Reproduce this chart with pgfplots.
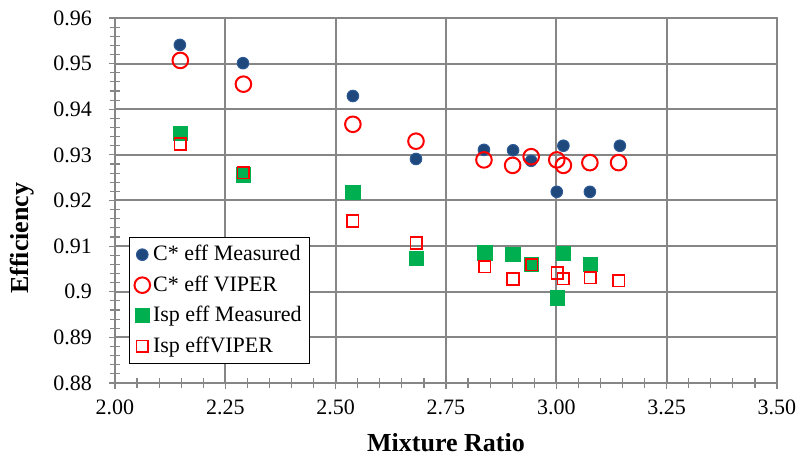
\documentclass[border=0pt]{standalone}
\usepackage{pgfplots}
\pgfplotsset{compat=1.18}
\usepackage{fontspec}
\setmainfont{Liberation Serif}
\definecolor{cblue}{RGB}{31,73,125}
\definecolor{cblueedge}{RGB}{46,90,150}
\definecolor{cgreen}{RGB}{0,176,80}
\definecolor{cgrid}{RGB}{134,134,134}
\begin{document}
\begin{tikzpicture}
\useasboundingbox (-57.5pt,-37.5pt) rectangle (342.5pt,191.5pt);
\begin{axis}[
  scale only axis,
  width=331pt, height=182.5pt,
  xmin=2, xmax=3.5, ymin=0.88, ymax=0.96,
  xtick={2,2.25,...,3.5},
  ytick={0.88,0.89,...,0.96},
  minor x tick num=4,
  minor y tick num=4,
  grid=major,
  major grid style={cgrid, line width=1pt},
  axis line style={cgrid, line width=1pt},
  tick style={cgrid, line width=0.6pt},
  tick align=center,
  major tick length=6pt,
  minor tick length=5pt,
  xtick pos=bottom, ytick pos=left,
  /pgf/number format/assume math mode=true,
  /pgf/number format/fixed,
  /pgf/number format/precision=2,
  xticklabel style={/pgf/number format/fixed zerofill, yshift=-2pt},
  ticklabel style={font=\fontsize{11}{12}\selectfont},
  yticklabel style={xshift=-5pt},
  scaled ticks=false,
  xlabel={\textbf{Mixture Ratio}},
  ylabel={\textbf{Efficiency}},
  label style={font=\fontsize{13}{15}\selectfont},
  xlabel style={at={(axis description cs:0.5,-0.189)}, anchor=base},
  ylabel style={at={(axis description cs:-0.1405,0.397)}, anchor=center},
  legend style={at={(rel axis cs:0.021,0.052)}, anchor=south west, draw=black, line width=0.6pt,
    font=\fontsize{11}{12}\selectfont, row sep=3pt, inner sep=2.5pt,
    nodes={inner sep=1.5pt}},
  legend cell align=left,
  legend image code/.code={\draw[#1,mark repeat=2,mark phase=2] plot coordinates {(0cm,0cm)(0.14cm,0cm)(0.28cm,0cm)};},
]
\addplot[only marks, mark=*, mark size=2.9pt, mark options={fill=cblue, draw=cblueedge, line width=0.5pt}] coordinates {
(2.147,0.9541) (2.290,0.9501) (2.539,0.9429) (2.682,0.9291) (2.836,0.9311) (2.902,0.9310)
(2.943,0.9287) (3.001,0.9219) (3.016,0.9320) (3.076,0.9219) (3.144,0.9320)
};
\addlegendentry{C* eff Measured}
\addplot[only marks, mark=o, mark size=3.9pt, mark options={draw=red, line width=1pt}] coordinates {
(2.148,0.9507) (2.291,0.9455) (2.539,0.9367) (2.682,0.9330) (2.836,0.9289) (2.901,0.9277)
(2.943,0.9296) (3.001,0.9289) (3.016,0.9277) (3.076,0.9283) (3.141,0.9283)
};
\addlegendentry{C* eff VIPER}
\addplot[only marks, mark=square*, mark size=3.6pt, mark options={fill=cgreen, draw=cgreen, line width=0pt}] coordinates {
(2.148,0.9347) (2.291,0.9256) (2.539,0.9217) (2.683,0.9073) (2.838,0.9085) (2.902,0.9082)
(2.944,0.9060) (3.002,0.8986) (3.016,0.9084) (3.077,0.9060)
};
\addlegendentry{Isp eff Measured}
\addplot[only marks, mark=square, mark size=2.9pt, mark options={draw=red, line width=0.8pt}] coordinates {
(2.148,0.9324) (2.291,0.9261) (2.539,0.9155) (2.683,0.9107) (2.838,0.9055) (2.902,0.9028)
(2.944,0.9059) (3.002,0.9041) (3.016,0.9029) (3.077,0.9031) (3.141,0.9024)
};
\addlegendentry{Isp effVIPER}
\end{axis}
\end{tikzpicture}
\end{document}
